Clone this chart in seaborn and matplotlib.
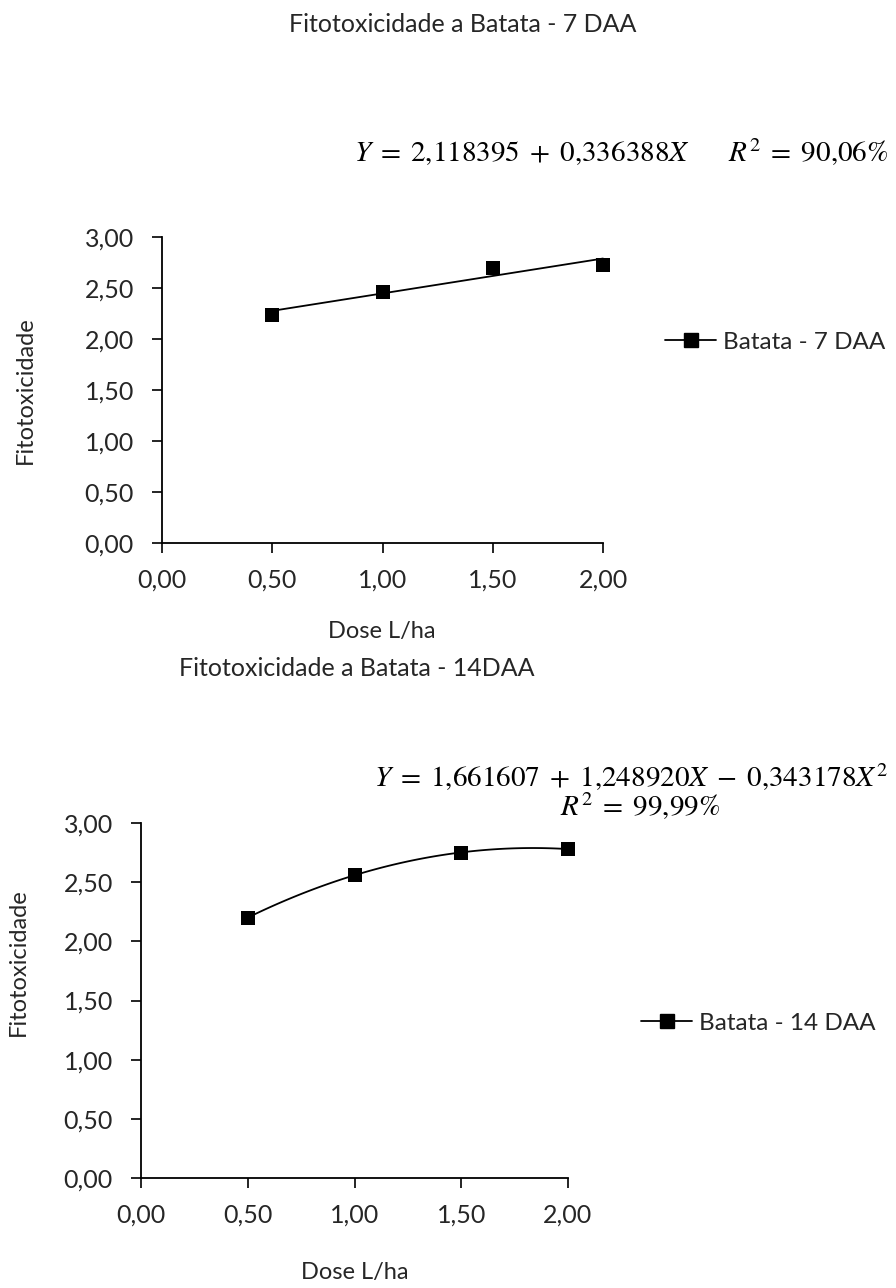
import matplotlib
matplotlib.use("Agg")
import matplotlib.pyplot as plt
from matplotlib.lines import Line2D
import seaborn as sns
import pandas as pd

# ---- data ----
dose = [0.5, 1.0, 1.5, 2.0]
fito_7daa = [2.24, 2.46, 2.70, 2.73]
fito_14daa = [2.20, 2.56, 2.75, 2.78]
x_ticks = [0.0, 0.5, 1.0, 1.5, 2.0]
x_tick_labels = ["0,00", "0,50", "1,00", "1,50", "2,00"]
y_ticks = [0.0, 0.5, 1.0, 1.5, 2.0, 2.5, 3.0]
y_tick_labels = ["0,00", "0,50", "1,00", "1,50", "2,00", "2,50", "3,00"]
title_7 = "Fitotoxicidade a Batata - 7 DAA"
title_14 = "Fitotoxicidade a Batata - 14DAA"
legend_7 = "Batata - 7 DAA"
legend_14 = "Batata - 14 DAA"
eq_7 = r"$Y\;=\;2{,}118395\;+\;0{,}336388X\qquad R^2\;=\;90{,}06\%$"
eq_14a = r"$Y\;=\;1{,}661607\;+\;1{,}248920X\;-\;0{,}343178X^2$"
eq_14b = r"$R^2\;=\;99{,}99\%$"
xlabel = "Dose L/ha"
ylabel = "Fitotoxicidade"

sns.set_theme(style="white")
plt.rcParams["font.family"] = ["Lato", "DejaVu Sans"]
plt.rcParams["mathtext.fontset"] = "stix"
TXT = "#262626"
FS = 17
TICK_FS = 18
EQ_FS = 21

W, H = 896, 1288
fig = plt.figure(figsize=(W / 100, H / 100), dpi=100)


def fx(px):
    return px / W


def fy(py):
    return 1 - py / H


def make_axes(left, right, top, bottom):
    return fig.add_axes([fx(left), fy(bottom), (right - left) / W, (bottom - top) / H])


def style_axes(ax):
    ax.set_xlim(0, 2)
    ax.set_ylim(0, 3)
    ax.set_xticks(x_ticks)
    ax.set_xticklabels(x_tick_labels)
    ax.set_yticks(y_ticks)
    ax.set_yticklabels(y_tick_labels)
    for s in ["top", "right"]:
        ax.spines[s].set_visible(False)
    for s in ["left", "bottom"]:
        ax.spines[s].set_color("black")
        ax.spines[s].set_linewidth(1.3)
    ax.tick_params(axis="both", which="major", direction="out", length=7.2, width=1.2,
                   color="black", labelsize=TICK_FS, labelcolor=TXT, pad=11,
                   left=True, bottom=True)
    ax.tick_params(axis="y", pad=13)
    ax.set_xlabel("")
    ax.set_ylabel("")
    ax.grid(False)


def draw(ax, y, order):
    df = pd.DataFrame({"dose": dose, "fito": y})
    sns.regplot(data=df, x="dose", y="fito", order=order, ci=None, scatter=False,
                truncate=True, line_kws=dict(color="black", lw=1.3, zorder=2), ax=ax)
    sns.scatterplot(data=df, x="dose", y="fito", marker="s", s=105, color="black",
                    edgecolor="black", linewidth=0, zorder=3, ax=ax, legend=False)
    for art in list(ax.lines) + list(ax.collections):
        art.set_clip_on(False)
    style_axes(ax)


# top chart
ax1 = make_axes(162, 603, 237, 543)
draw(ax1, fito_7daa, 1)
# bottom chart
ax2 = make_axes(141, 568, 823, 1178)
draw(ax2, fito_14daa, 2)

# titles and labels
fig.text(fx(463), fy(25), title_7, ha="center", va="center", fontsize=18, color=TXT)
fig.text(fx(357), fy(668), title_14, ha="center", va="center", fontsize=18, color=TXT)
fig.text(fx(382), fy(632), xlabel, ha="center", va="center", fontsize=FS, color=TXT)
fig.text(fx(355), fy(1272), xlabel, ha="center", va="center", fontsize=FS, color=TXT)
fig.text(fx(25), fy(390), ylabel, ha="center", va="center", rotation=90, fontsize=FS, color=TXT)
fig.text(fx(18), fy(962), ylabel, ha="center", va="center", rotation=90, fontsize=FS, color=TXT)

# equations
fig.text(fx(888), fy(152), eq_7, ha="right", va="center", fontsize=EQ_FS, color="black")
fig.text(fx(888), fy(777), eq_14a, ha="right", va="center", fontsize=EQ_FS, color="black")
fig.text(fx(640), fy(806), eq_14b, ha="center", va="center", fontsize=EQ_FS, color="black")

# legends
handle = Line2D([0], [0], color="black", lw=1.3, marker="s", markersize=10)
for ax, label, x0, y0 in [(ax1, legend_7, 665, 342), (ax2, legend_14, 641, 1023)]:
    leg = ax.legend([handle], [label], loc="center left",
                    bbox_to_anchor=(fx(x0), fy(y0)), bbox_transform=fig.transFigure,
                    frameon=False, borderpad=0, borderaxespad=0, handlelength=2.1,
                    handletextpad=0.3, fontsize=17.5)
    for t in leg.get_texts():
        t.set_color(TXT)

fig.savefig("out.png", dpi=100, facecolor="white")
